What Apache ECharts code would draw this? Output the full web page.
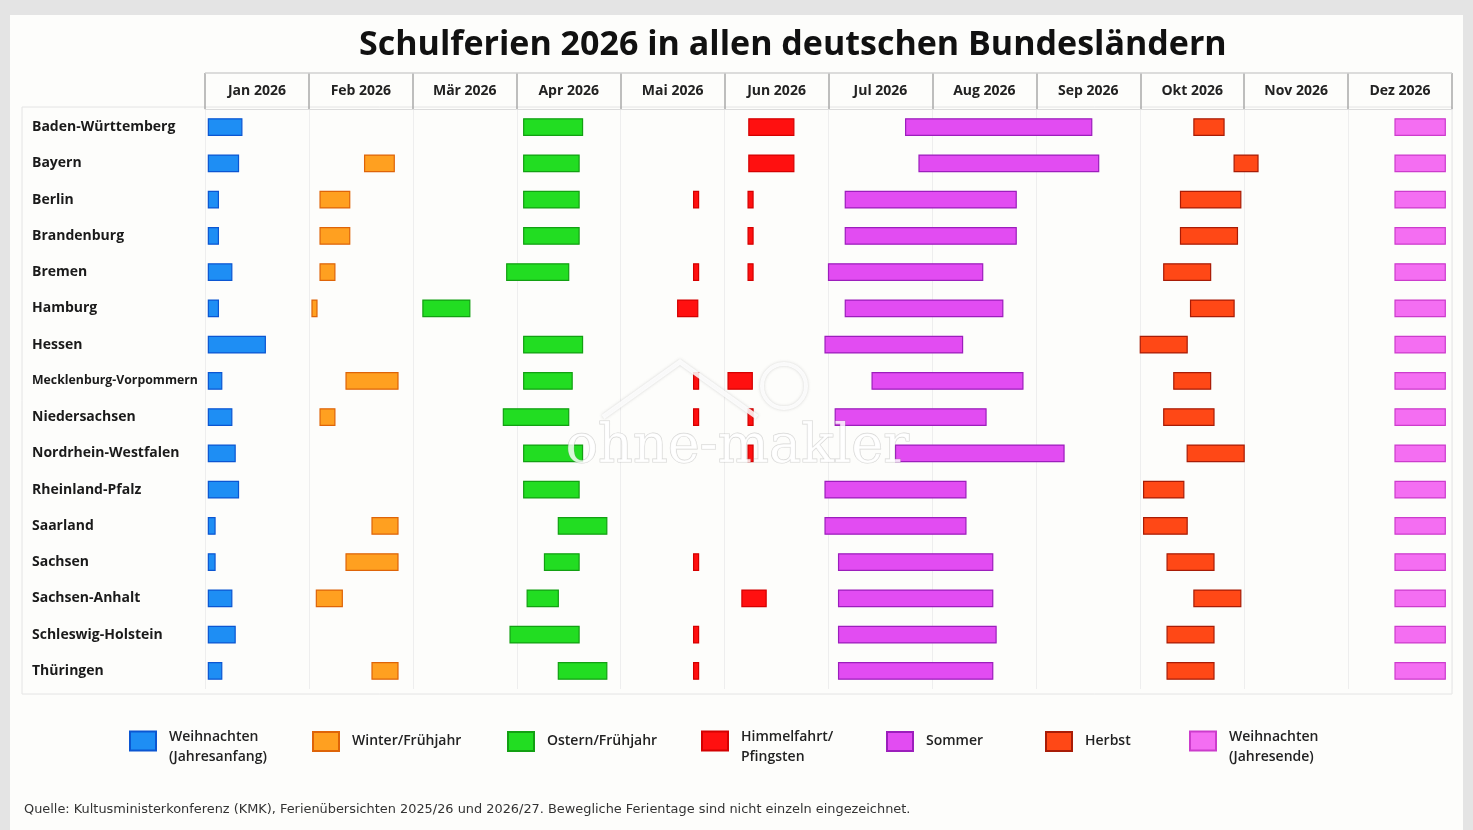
<!DOCTYPE html>
<html><head><meta charset="utf-8">
<script src="https://cdn.jsdelivr.net/npm/echarts@6/dist/echarts.min.js"></script>
<style>
html,body{margin:0;padding:0;width:1473px;height:830px;background:#e4e4e4;overflow:hidden}
#panel{position:absolute;left:10px;top:15px;width:1453px;height:815px;background:#fdfdfb}
#chart{position:absolute;left:0;top:0;width:1473px;height:830px}
</style></head><body><div id="panel"></div><div id="chart"></div>
<script>
// ---------- data ----------
const states = ['Baden-Württemberg','Bayern','Berlin','Brandenburg','Bremen','Hamburg','Hessen','Mecklenburg-Vorpommern','Niedersachsen','Nordrhein-Westfalen','Rheinland-Pfalz','Saarland','Sachsen','Sachsen-Anhalt','Schleswig-Holstein','Thüringen'];
const months = ['Jan 2026','Feb 2026','Mär 2026','Apr 2026','Mai 2026','Jun 2026','Jul 2026','Aug 2026','Sep 2026','Okt 2026','Nov 2026','Dez 2026'];
const holidayTypes = ['Weihnachten (Jahresanfang)','Winter/Frühjahr','Ostern/Frühjahr','Himmelfahrt/Pfingsten','Sommer','Herbst','Weihnachten (Jahresende)'];
const legendLines = [['Weihnachten','(Jahresanfang)'],['Winter/Frühjahr'],['Ostern/Frühjahr'],['Himmelfahrt/','Pfingsten'],['Sommer'],['Herbst'],['Weihnachten','(Jahresende)']];

// [Bundesland, Beginn (MM-TT), Ende (MM-TT)]
const weihnachtenJahresanfang = [
  ['Baden-Württemberg','01-02','01-11'],['Bayern','01-02','01-10'],['Berlin','01-02','01-04'],['Brandenburg','01-02','01-04'],
  ['Bremen','01-02','01-08'],['Hamburg','01-02','01-04'],['Hessen','01-02','01-18'],['Mecklenburg-Vorpommern','01-02','01-05'],
  ['Niedersachsen','01-02','01-08'],['Nordrhein-Westfalen','01-02','01-09'],['Rheinland-Pfalz','01-02','01-10'],['Saarland','01-02','01-03'],
  ['Sachsen','01-02','01-03'],['Sachsen-Anhalt','01-02','01-08'],['Schleswig-Holstein','01-02','01-09'],['Thüringen','01-02','01-05']
];
const winterFruehjahr = [
  ['Bayern','02-16','02-23'],['Berlin','02-04','02-11'],['Brandenburg','02-04','02-11'],['Bremen','02-04','02-07'],
  ['Hamburg','02-02','02-02'],['Mecklenburg-Vorpommern','02-11','02-24'],['Niedersachsen','02-04','02-07'],['Saarland','02-18','02-24'],
  ['Sachsen','02-11','02-24'],['Sachsen-Anhalt','02-03','02-09'],['Thüringen','02-18','02-24']
];
const osternFruehjahr = [
  ['Baden-Württemberg','04-03','04-19'],['Bayern','04-03','04-18'],['Berlin','04-03','04-18'],['Brandenburg','04-03','04-18'],
  ['Bremen','03-29','04-15'],['Hamburg','03-04','03-17'],['Hessen','04-03','04-19'],['Mecklenburg-Vorpommern','04-03','04-16'],
  ['Niedersachsen','03-28','04-15'],['Nordrhein-Westfalen','04-03','04-19'],['Rheinland-Pfalz','04-03','04-18'],['Saarland','04-13','04-26'],
  ['Sachsen','04-09','04-18'],['Sachsen-Anhalt','04-04','04-12'],['Schleswig-Holstein','03-30','04-18'],['Thüringen','04-13','04-26']
];
const himmelfahrtPfingsten = [
  ['Baden-Württemberg','06-08','06-20'],['Bayern','06-08','06-20'],
  ['Berlin','05-23','05-23'],['Berlin','06-08','06-08'],['Brandenburg','06-08','06-08'],
  ['Bremen','05-23','05-23'],['Bremen','06-08','06-08'],['Hamburg','05-18','05-23'],
  ['Mecklenburg-Vorpommern','05-23','05-23'],['Mecklenburg-Vorpommern','06-02','06-08'],
  ['Niedersachsen','05-23','05-23'],['Niedersachsen','06-08','06-08'],['Nordrhein-Westfalen','06-08','06-08'],
  ['Sachsen','05-23','05-23'],['Sachsen-Anhalt','06-06','06-12'],['Schleswig-Holstein','05-23','05-23'],['Thüringen','05-23','05-23']
];
const sommer = [
  ['Baden-Württemberg','07-24','09-16'],['Bayern','07-28','09-18'],['Berlin','07-06','08-25'],['Brandenburg','07-06','08-25'],
  ['Bremen','07-01','08-15'],['Hamburg','07-06','08-21'],['Hessen','06-30','08-09'],['Mecklenburg-Vorpommern','07-14','08-27'],
  ['Niedersachsen','07-03','08-16'],['Nordrhein-Westfalen','07-21','09-08'],['Rheinland-Pfalz','06-30','08-10'],['Saarland','06-30','08-10'],
  ['Sachsen','07-04','08-18'],['Sachsen-Anhalt','07-04','08-18'],['Schleswig-Holstein','07-04','08-19'],['Thüringen','07-04','08-18']
];
const herbst = [
  ['Baden-Württemberg','10-17','10-25'],['Bayern','10-29','11-04'],['Berlin','10-13','10-30'],['Brandenburg','10-13','10-29'],
  ['Bremen','10-08','10-21'],['Hamburg','10-16','10-28'],['Hessen','10-01','10-14'],['Mecklenburg-Vorpommern','10-11','10-21'],
  ['Niedersachsen','10-08','10-22'],['Nordrhein-Westfalen','10-15','10-31'],['Rheinland-Pfalz','10-02','10-13'],['Saarland','10-02','10-14'],
  ['Sachsen','10-09','10-22'],['Sachsen-Anhalt','10-17','10-30'],['Schleswig-Holstein','10-09','10-22'],['Thüringen','10-09','10-22']
];
const weihnachtenJahresende = states.map(s => [s,'12-15','12-29']);

const seriesData = [weihnachtenJahresanfang, winterFruehjahr, osternFruehjahr, himmelfahrtPfingsten, sommer, herbst, weihnachtenJahresende];

// ---------- styles ----------
const fills   = ['#1e8ef4','#ffa020','#22dd22','#ff1010','#e24cf2','#ff4816','#f46ef2'];
const borders = ['#0b56d2','#de6408','#12a012','#d40000','#9c1ebc','#a81c06','#cc3ccc'];
const FONT = '"Open Sans", "DejaVu Sans", sans-serif';
const legendLeft = [124, 307, 502, 696, 881, 1040, 1184];

// ---------- helpers ----------
const dim = [31,28,31,30,31,30,31,31,30,31,30,31];
function toMonthPos(s, isEnd) {
  const m = parseInt(s.slice(0,2),10), d = parseInt(s.slice(3,5),10);
  return (m-1) + (isEnd ? d : d-1) / dim[m-1];
}

function renderBar(params, api) {
  const row = api.value(0);
  const p0 = api.coord([api.value(1), row]);
  const p1 = api.coord([api.value(2), row]);
  const h = api.size([0,1])[1] * 0.46;
  let x = p0[0], w = p1[0] - p0[0];
  if (w < 5) { x = (p0[0] + p1[0]) / 2 - 2.5; w = 5; }
  return {
    type: 'rect',
    shape: { x: x, y: p0[1] - h/2, width: w, height: h },
    style: api.style()
  };
}

const series = seriesData.map((arr, i) => ({
  type: 'custom',
  name: holidayTypes[i],
  xAxisIndex: 0, yAxisIndex: 0,
  renderItem: renderBar,
  itemStyle: { color: fills[i], borderColor: borders[i], borderWidth: 1.2 },
  encode: { x: [1,2], y: 0 },
  data: arr.map(([st, s, e]) => [states.indexOf(st), toMonthPos(s,false), toMonthPos(e,true)])
}));

const legendText = { fontFamily: FONT, fontSize: 14, fontWeight: 600, color: '#222', lineHeight: 20 };
const legends = holidayTypes.map((name, i) => {
  const lines = legendLines[i];
  const twoLine = lines.length > 1;
  return {
    data: [name],
    left: legendLeft[i],
    top: twoLine ? 710 : 726,
    orient: 'horizontal',
    itemWidth: 26, itemHeight: 19,
    icon: 'rect',
    selectedMode: false,
    formatter: () => twoLine ? '{s| }\n{t|' + lines[0] + '}\n{t|' + lines[1] + '}' : lines[0],
    textStyle: Object.assign({ padding: [0,0,0,8],
      rich: { s: { fontSize: 6, lineHeight: 12 }, t: Object.assign({}, legendText) } }, legendText)
  };
});

const chart = echarts.init(document.getElementById('chart'), null, {renderer: 'canvas'});
chart.setOption({
  animation: false,
  backgroundColor: 'transparent',
  title: [
    { text: 'Schulferien 2026 in allen deutschen Bundesländern', left: 354, top: 23,
      textStyle: { fontFamily: FONT, fontSize: 34, fontWeight: 700, color: '#111' } },
    { text: 'Quelle: Kultusministerkonferenz (KMK), Ferienübersichten 2025/26 und 2026/27. Bewegliche Ferientage sind nicht einzeln eingezeichnet.',
      left: 19, top: 798, textStyle: { fontFamily: '"DejaVu Sans", sans-serif', fontSize: 12.9, fontWeight: 400, color: '#333' } }
  ],
  grid: { left: 205, right: 21, top: 109, bottom: 141, containLabel: false },
  xAxis: [
    { type: 'value', min: 0, max: 12, show: false },
    { type: 'category', data: months, position: 'top', boundaryGap: true,
      axisLine: { show: true, lineStyle: { color: '#dcdcdc', width: 1 } },
      axisTick: { show: true, interval: 0, length: 36, lineStyle: { color: '#a9a9a9', width: 1.5 } },
      axisLabel: { interval: 0, margin: 11, fontFamily: FONT, fontSize: 14, fontWeight: 700, color: '#222' },
      splitLine: { show: true, interval: 0, lineStyle: { color: '#eeeeee', width: 1 } } }
  ],
  yAxis: {
    type: 'category', data: states, inverse: true,
    axisLine: { show: false }, axisTick: { show: false }, splitLine: { show: false },
    axisLabel: { align: 'left', margin: 173, fontFamily: FONT, fontSize: 14, fontWeight: 700, color: '#1a1a1a',
      formatter: v => v.length > 20 ? '{n|' + v + '}' : v,
      rich: { n: { fontFamily: FONT, fontSize: 12.3, fontWeight: 700, color: '#1a1a1a' } } }
  },
  legend: legends,
  graphic: [
    { type: 'rect', z: -1, shape: { x: 22, y: 107, width: 1430, height: 587 }, style: { fill: 'none', stroke: '#e4e4e4', lineWidth: 1 } },
    { type: 'line', z: 1, shape: { x1: 205, y1: 73, x2: 1452, y2: 73 }, style: { stroke: '#d0d0d0', lineWidth: 1.5 } },
    { type: 'polyline', z: 100, shape: { points: [[603,417],[680,362],[757,417]] }, style: { stroke: 'rgba(255,255,255,0.85)', lineWidth: 5, fill: 'none', shadowColor: 'rgba(120,120,120,0.35)', shadowBlur: 3 } },
    { type: 'circle', z: 100, shape: { cx: 784, cy: 386, r: 22 }, style: { stroke: 'rgba(255,255,255,0.85)', lineWidth: 4, fill: 'none', shadowColor: 'rgba(120,120,120,0.35)', shadowBlur: 3 } },
    { type: 'text', z: 100, left: 565, top: 420,
      style: { text: 'ohne-makler', font: '54px "DejaVu Serif", serif', fill: 'rgba(255,255,255,0.82)', stroke: 'rgba(140,140,140,0.35)', lineWidth: 1.2, shadowColor: 'rgba(120,120,120,0.3)', shadowBlur: 3 } }
  ],
  series: series
});
</script></body></html>
